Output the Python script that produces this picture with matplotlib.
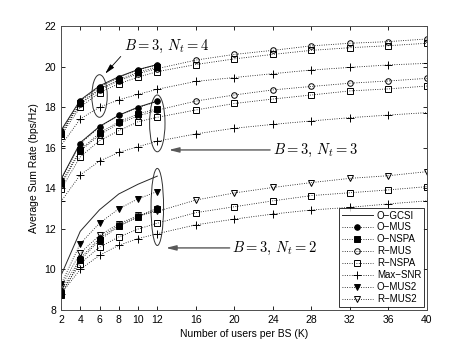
import numpy as np
import matplotlib
matplotlib.use("Agg")
from matplotlib import pyplot as plt
from matplotlib.patches import Ellipse

plt.rcParams['font.family'] = ['Liberation Sans', 'DejaVu Sans']
plt.rcParams['mathtext.fontset'] = 'cm'

# number of users per BS
K_short = [2, 4, 6, 8, 10, 12]
K_long = [2, 4, 6, 8, 10, 12, 16, 20, 24, 28, 32, 36, 40]
xticks = [2, 4, 6, 8, 10, 12, 16, 20, 24, 28, 32, 36, 40]

# B = 3, Nt = 4
gcsi4 = [16.85, 18.35, 19.05, 19.5, 19.85, 20.1]
omus4 = [16.8, 18.3, 19.0, 19.45, 19.85, 20.08]
onspa4 = [16.7, 18.2, 18.9, 19.35, 19.72, 19.98]
rmus4 = [16.7, 18.15, 18.85, 19.3, 19.65, 19.9, 20.32, 20.6, 20.8, 21.02, 21.15, 21.23, 21.36]
rnspa4 = [16.6, 18.0, 18.72, 19.15, 19.48, 19.75, 20.1, 20.38, 20.6, 20.8, 20.93, 21.03, 21.15]
maxsnr4 = [16.1, 17.42, 18.0, 18.36, 18.63, 18.88, 19.27, 19.46, 19.65, 19.83, 19.96, 20.08, 20.16]

# B = 3, Nt = 3
gcsi3 = [14.45, 16.25, 17.05, 17.6, 18.0, 18.3]
omus3 = [14.4, 16.2, 17.02, 17.6, 17.98, 18.28]
onspa3 = [14.25, 15.9, 16.72, 17.28, 17.66, 17.93]
rmus3 = [14.15, 15.85, 16.62, 17.2, 17.56, 17.85, 18.3, 18.6, 18.85, 19.02, 19.18, 19.29, 19.42]
rnspa3 = [13.95, 15.55, 16.35, 16.84, 17.28, 17.5, 17.86, 18.18, 18.4, 18.6, 18.8, 18.9, 19.04]
maxsnr3 = [13.35, 14.66, 15.34, 15.77, 16.05, 16.32, 16.68, 16.96, 17.15, 17.32, 17.48, 17.61, 17.73]

# B = 3, Nt = 2
gcsi2 = [9.7, 11.88, 12.94, 13.72, 14.2, 14.6]
omus2 = [8.95, 10.55, 11.55, 12.18, 12.62, 13.02]
onspa2 = [8.72, 10.45, 11.45, 12.12, 12.58, 12.96]
omus2b = [9.26, 11.27, 12.28, 12.99, 13.48, 13.84]
rmus2b = [9.15, 10.81, 11.68, 12.25, 12.66, 12.86, 13.42, 13.77, 14.04, 14.28, 14.49, 14.62, 14.82]
rnspa2 = [8.85, 10.29, 11.1, 11.6, 11.99, 12.28, 12.8, 13.09, 13.38, 13.64, 13.78, 13.92, 14.08]
maxsnr2 = [8.8, 10.0, 10.7, 11.19, 11.52, 11.76, 12.2, 12.48, 12.73, 12.93, 13.06, 13.23, 13.38]

fig = plt.figure(figsize=(4.71, 3.5), dpi=100)
ax = fig.add_axes([0.1295, 0.1143, 0.777, 0.8114])

dot = (0, (1, 1.8))
lw = 0.6
ms = 4
kw = dict(color='k', linestyle=dot, linewidth=lw, markersize=ms, markeredgewidth=0.7)

groups = [
    (gcsi4, omus4, onspa4, rmus4, rnspa4, maxsnr4),
    (gcsi3, omus3, onspa3, rmus3, rnspa3, maxsnr3),
    (gcsi2, omus2, onspa2, None, rnspa2, maxsnr2),
]

for i, (g, om, on, rm, rn, mx) in enumerate(groups):
    lab = (lambda s: s) if i == 0 else (lambda s: None)
    ax.plot(K_short, g, '-', color='0.15', linewidth=0.7, label=lab('O\u2212GCSI'))
    ax.plot(K_short, om, marker='o', markerfacecolor='k', label=lab('O\u2212MUS'), **kw)
    ax.plot(K_short, on, marker='s', markerfacecolor='k', label=lab('O\u2212NSPA'), **kw)
    if rm is not None:
        ax.plot(K_long, rm, marker='o', markerfacecolor='none', label=lab('R\u2212MUS'), **kw)
    ax.plot(K_long, rn, marker='s', markerfacecolor='none', label=lab('R\u2212NSPA'), **kw)
    ax.plot(K_long, mx, marker='+', markersize=5.5, label=lab('Max\u2212SNR'),
            **{k: v for k, v in kw.items() if k != 'markersize'})

ax.plot(K_short, omus2b, marker='v', markerfacecolor='k', label='O\u2212MUS2', **kw)
ax.plot(K_long, rmus2b, marker='v', markerfacecolor='none', label='R\u2212MUS2', **kw)

# ellipses marking the groups
for (cx, cy, w, h) in [(6, 18.55, 1.6, 2.1), (12, 17.2, 1.6, 2.8), (12, 13.08, 1.3, 3.8)]:
    ax.add_patch(Ellipse((cx, cy), w, h, fill=False, edgecolor='0.2', linewidth=0.7))

ax.annotate('', xy=(6.4, 19.55), xytext=(8.4, 20.6),
            arrowprops=dict(arrowstyle='-|>,head_length=0.6,head_width=0.15', color='k', lw=0.6))
ax.text(8.5, 20.97, r'$B=3,\,N_t=4$', fontsize=10.5, va='center', ha='left')

ax.annotate('', xy=(12.9, 15.89), xytext=(24.0, 15.89),
            arrowprops=dict(arrowstyle='-|>,head_length=0.6,head_width=0.15', color='0.35', lw=1.0))
ax.text(24.0, 15.89, r'$B=3,\,N_t=3$', fontsize=10.5, va='center', ha='left')

ax.annotate('', xy=(12.6, 11.06), xytext=(19.8, 11.06),
            arrowprops=dict(arrowstyle='-|>,head_length=0.6,head_width=0.15', color='0.35', lw=1.0))
ax.text(19.8, 11.06, r'$B=3,\,N_t=2$', fontsize=10.5, va='center', ha='left')

ax.set_xlim(2, 40)
ax.set_ylim(8, 22)
ax.set_xticks(xticks)
ax.set_yticks(np.arange(8, 23, 2))
ax.tick_params(direction='in', top=True, right=True, labelsize=7.5, length=3, width=0.6)
for s in ax.spines.values():
    s.set_linewidth(0.7)
    s.set_color('0.3')
ax.set_xlabel('Number of users per BS (K)', fontsize=7.5, labelpad=3)
ax.set_ylabel('Average Sum Rate (bps/Hz)', fontsize=7.5, labelpad=4)

leg = ax.legend(loc='lower right', fontsize=7, frameon=True, fancybox=False,
                edgecolor='k', borderaxespad=0.3, handlelength=3.2, labelspacing=0.2,
                borderpad=0.3, handletextpad=0.4)
leg.get_frame().set_linewidth(0.7)

fig.savefig('out.png', dpi=100)
